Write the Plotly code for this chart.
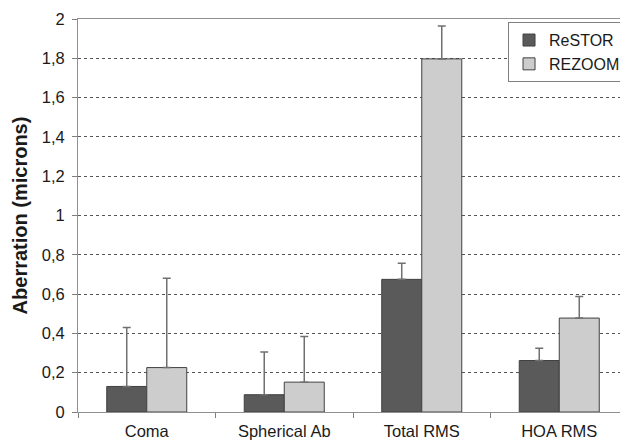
import plotly.graph_objects as go

categories = ["Coma", "Spherical Ab", "Total RMS", "HOA RMS"]
restor = [0.13, 0.088, 0.675, 0.262]
restor_err = [0.30, 0.217, 0.082, 0.062]
rezoom = [0.226, 0.152, 1.797, 0.478]
rezoom_err = [0.455, 0.232, 0.167, 0.11]

edge = dict(color="#404040", width=1)
err_style = dict(type="data", symmetric=False, color="#707070", thickness=1.5, width=4)

fig = go.Figure()
fig.add_trace(go.Bar(
    x=categories, y=restor, name="ReSTOR",
    marker=dict(color="#5a5a5a", line=edge),
    error_y=dict(array=restor_err, arrayminus=[0] * len(restor), **err_style),
))
fig.add_trace(go.Bar(
    x=categories, y=rezoom, name="REZOOM",
    marker=dict(color="#cdcdcd", line=edge),
    error_y=dict(array=rezoom_err, arrayminus=[0] * len(rezoom), **err_style),
))

# page body has an 8px default margin, so the figure is sized to compensate
fig.update_layout(
    width=620, height=432,
    margin=dict(l=70, r=0, t=11, b=28, autoexpand=False),
    paper_bgcolor="white", plot_bgcolor="white",
    separators=", ",
    barmode="group", bargap=0.418, bargroupgap=0,
    font=dict(family="Liberation Sans", color="#1a1a1a", size=16.5),
    legend=dict(
        x=0.9964, y=0.992, xanchor="right", yanchor="top",
        bgcolor="white", bordercolor="#808080", borderwidth=1,
        font=dict(size=16), itemwidth=30, tracegroupgap=0,
    ),
    showlegend=True,
)
fig.update_xaxes(
    type="category", tickson="boundaries", ticks="outside", ticklen=5,
    tickcolor="#808080", showline=True, linecolor="#909090", linewidth=1,
    mirror=True, showgrid=False, tickfont=dict(size=16.5), automargin=False,
    ticklabelstandoff=4,
)
fig.update_yaxes(
    range=[0, 2], dtick=0.2, tick0=0, ticks="outside", ticklen=5,
    tickcolor="#808080", showline=True, linecolor="#909090", linewidth=1,
    showgrid=True, gridcolor="#555555", griddash="dot", gridwidth=1,
    zeroline=False, tickfont=dict(size=16.5), automargin=False,
    ticklabelstandoff=4,
    title=dict(text="<b>Aberration (microns)</b>", font=dict(size=20), standoff=8),
)

fig.write_html("out.html")
